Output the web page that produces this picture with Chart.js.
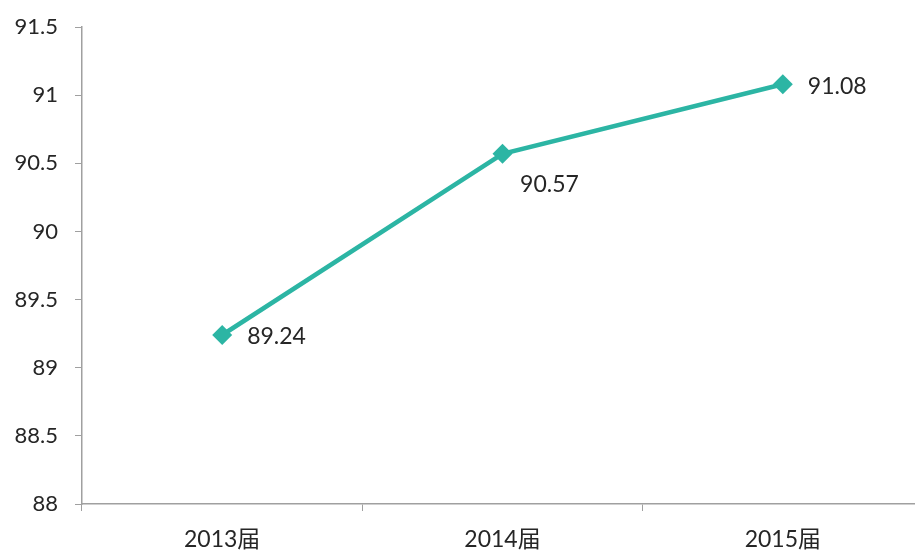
<!DOCTYPE html>
<html>
<head>
<meta charset="utf-8">
<style>
  html, body { margin: 0; padding: 0; background: #fff; overflow: hidden; }
</style>
</head>
<body>
<canvas id="grafico" width="933" height="552" style="display:block; width:933px; height:552px;"></canvas>

<script src="https://cdn.jsdelivr.net/npm/chart.js"></script>
<script>
  // dados do gráfico
  const categorias = ['2013届', '2014届', '2015届'];
  const valores = [89.24, 90.57, 91.08];
  const eixoMin = 88;
  const eixoMax = 91.5;
  const passo = 0.5;

  const corLinha = '#2cb5a4';
  const corEixo = '#a0a0a0';
  const corTexto = '#262626';
  const fonte = 'Lato, "Noto Sans CJK SC", sans-serif';

  // rótulos dos pontos (sem plugin externo)
  const rotulos = {
    id: 'rotulos',
    afterDatasetsDraw(chart) {
      const ctx = chart.ctx;
      const meta = chart.getDatasetMeta(0);
      const desloc = [[25, 2, 'left'], [47, 31, 'center'], [25, 2, 'left']];
      ctx.save();
      ctx.font = '23px ' + fonte;
      ctx.fillStyle = corTexto;
      ctx.textBaseline = 'middle';
      meta.data.forEach((pt, i) => {
        const d = desloc[i];
        ctx.textAlign = d[2];
        ctx.fillText(valores[i].toFixed(2), pt.x + d[0], pt.y + d[1]);
      });
      ctx.restore();
    }
  };

  new Chart(document.getElementById('grafico'), {
    type: 'line',
    data: {
      labels: categorias,
      datasets: [{
        data: valores,
        borderColor: corLinha,
        backgroundColor: corLinha,
        borderWidth: 4.5,
        pointStyle: 'rectRot',
        pointRadius: 10,
        pointHoverRadius: 10,
        pointBorderWidth: 0,
        tension: 0,
        fill: false
      }]
    },
    options: {
      responsive: false,
      animation: false,
      layout: { padding: { top: 27, right: 0, bottom: 0, left: 0 } },
      plugins: { legend: { display: false }, tooltip: { enabled: false } },
      scales: {
        x: {
          type: 'category',
          offset: true,
          grid: { offset: true, drawOnChartArea: false, tickLength: 7, color: corEixo },
          border: { color: corEixo, width: 1.5 },
          ticks: { color: corTexto, font: { family: fonte, size: 23 }, padding: 15 },
          afterFit(scale) {
            scale.height = 48;
            scale.paddingLeft = 0;
            scale.paddingRight = 0;
          }
        },
        y: {
          min: eixoMin,
          max: eixoMax,
          grid: { drawOnChartArea: false, tickLength: 7, color: corEixo },
          border: { color: corEixo, width: 1.5 },
          ticks: {
            stepSize: passo,
            color: corTexto,
            font: { family: fonte, size: 22 },
            padding: 17,
            callback: v => String(Math.round(v * 10) / 10)
          },
          afterFit(scale) {
            scale.width = 82;
            scale.paddingTop = 0;
            scale.paddingBottom = 0;
          }
        }
      }
    },
    plugins: [rotulos]
  });
</script>
</body>
</html>
